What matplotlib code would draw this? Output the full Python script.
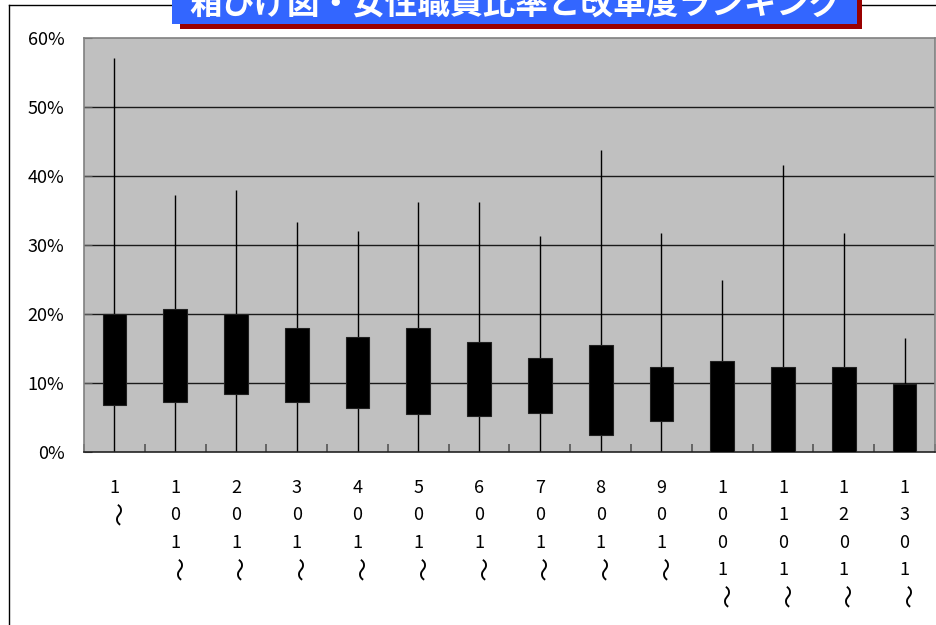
import matplotlib
matplotlib.use("Agg")
import matplotlib.pyplot as plt
from matplotlib.patches import Rectangle
from matplotlib.lines import Line2D
import numpy as np

plt.rcParams['font.family'] = ['Noto Sans CJK JP', 'DejaVu Sans']

title = "箱ひげ図・女性職員比率と改革度ランキング"
categories = ["1～", "101～", "201～", "301～", "401～", "501～", "601～",
              "701～", "801～", "901～", "1001～", "1101～", "1201～", "1301～"]
mins = [0, 0, 0, 0, 0, 0, 0, 0, 0, 0, 0, 0, 0, 0]
q1 = [6.8, 7.2, 8.4, 7.2, 6.4, 5.5, 5.2, 5.6, 2.5, 4.5, 0, 0, 0, 0]
q3 = [20.0, 20.7, 20.0, 18.0, 16.6, 18.0, 16.0, 13.6, 15.5, 12.3, 13.2, 12.3, 12.3, 9.8]
maxs = [57.1, 37.3, 38.0, 33.3, 32.0, 36.2, 36.2, 31.3, 43.7, 31.7, 24.9, 41.6, 31.7, 16.5]
yticks = [0, 10, 20, 30, 40, 50, 60]
ytick_labels = ["0%", "10%", "20%", "30%", "40%", "50%", "60%"]

W, H = 937, 625
fig = plt.figure(figsize=(W / 100, H / 100), dpi=100)
fig.patch.set_facecolor('white')

# outer frame (partially visible)
fig.add_artist(Line2D([9 / W, 9 / W], [0, 1 - 5 / H], color='black', lw=1))
fig.add_artist(Line2D([9 / W, 1], [1 - 5 / H, 1 - 5 / H], color='black', lw=1))

ax = fig.add_axes([84 / W, (H - 452) / H, (935 - 84) / W, (452 - 38) / H])
ax.set_facecolor('#C0C0C0')
x = np.arange(len(categories))

ax.set_xlim(-0.5, len(categories) - 0.5)
ax.set_ylim(0, 60)

for v in yticks[1:-1]:
    ax.axhline(v, color='#1a1a1a', lw=1.0, zorder=1)

ax.vlines(x, mins, maxs, color='black', lw=1.0, zorder=2)
heights = [b - a for a, b in zip(q1, q3)]
ax.bar(x, heights, bottom=q1, width=0.39, color='black', edgecolor='#202020', lw=0.8, zorder=3)

ax.set_yticks(yticks)
ax.set_yticklabels(ytick_labels, fontsize=13)
ax.tick_params(axis='y', direction='in', length=6, color='#555555', pad=14)
ax.set_xticks([])
ax.set_xticks(np.arange(-0.5, len(categories), 1.0), minor=True)
ax.tick_params(axis='x', which='minor', direction='in', length=6, color='#555555', width=1.2)
ax.tick_params(axis='x', which='major', length=0)

for side in ['top', 'left', 'right']:
    ax.spines[side].set_color('#808080')
    ax.spines[side].set_linewidth(1.2)
ax.spines['bottom'].set_color('#222222')
ax.spines['bottom'].set_linewidth(1.2)

# vertical stacked category labels
for i, lab in enumerate(categories):
    for k, ch in enumerate(lab):
        if ch == '～':
            rot, fs = -90, 17
        else:
            rot, fs = 0, 13
        ax.annotate(ch, xy=(i, 0), xycoords='data',
                    xytext=(0, -36 - 27.3 * k), textcoords='offset pixels',
                    ha='center', va='center', fontsize=fs, rotation=rot,
                    annotation_clip=False)

# title box with shadow
fig.add_artist(Rectangle((180 / W, 1 - 29 / H), (862 - 180) / W, 40 / H,
                         transform=fig.transFigure, facecolor='#990000', edgecolor='none', zorder=5))
fig.add_artist(Rectangle((172 / W, 1 - 24 / H), (857 - 172) / W, 40 / H,
                         transform=fig.transFigure, facecolor='#3366FF', edgecolor='none', zorder=6))
fig.text(516 / W, 1 - 4 / H, title, ha='center', va='center', color='white',
         fontsize=23.5, fontweight='bold', zorder=7)

fig.savefig('out.png', dpi=100)
